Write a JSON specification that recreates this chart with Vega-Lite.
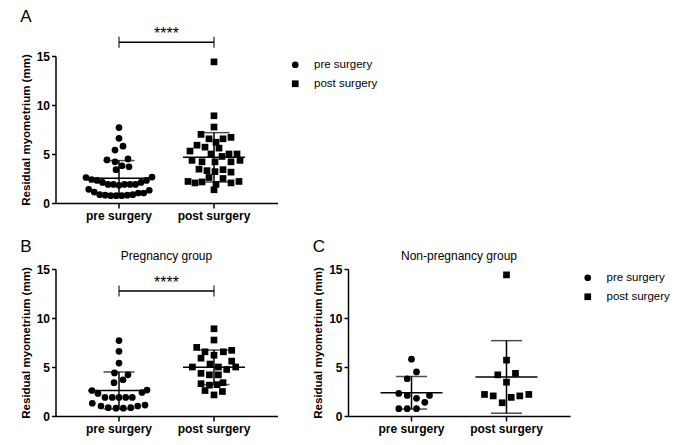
{
  "$schema": "https://vega.github.io/schema/vega-lite/v6.json",
  "autosize": {"type": "none"},
  "padding": {"left": 55.5, "top": 56, "right": 624.5, "bottom": 389},
  "background": "white",
  "config": {
    "view": {"stroke": null},
    "font": "Liberation Sans",
    "axis": {"grid": false, "domainColor": "black", "domainWidth": 1.5, "tickColor": "black", "tickWidth": 1.5, "labelColor": "black", "labelFont": "Liberation Sans", "labelFontWeight": "bold", "labelFontSize": 12, "titleFont": "Liberation Sans", "titleFontWeight": "bold", "titleFontSize": 11.5, "titleColor": "black"},
    "axisX": {"tickSize": 5, "labelPadding": 2, "labelAngle": 0, "bandPosition": 0.5},
    "axisY": {"tickSize": 4, "labelPadding": 2, "titlePadding": 5},
    "legend": {"labelFont": "Liberation Sans", "labelFontSize": 11.5, "labelColor": "black", "symbolSize": 45, "symbolFillColor": "black", "symbolStrokeColor": "black", "symbolStrokeWidth": 0, "rowPadding": 6, "labelOffset": 13, "offset": 9, "padding": 3},
    "title": {"font": "Liberation Sans", "fontWeight": "normal", "fontSize": 17, "color": "black", "anchor": "start", "frame": "bounds"}
  },
  "datasets": {
    "d": [
      {"g":"P","t":"pre surgery","v":7.7,"a":0,"s":0},
      {"g":"P","t":"pre surgery","v":6.6,"a":0,"s":0},
      {"g":"P","t":"pre surgery","v":5.4,"a":-4,"s":0},
      {"g":"P","t":"pre surgery","v":4.4,"a":-12,"s":-4.5},
      {"g":"P","t":"pre surgery","v":4.2,"a":-4,"s":9},
      {"g":"P","t":"pre surgery","v":3.7,"a":10,"s":4},
      {"g":"P","t":"pre surgery","v":3.4,"a":-3,"s":-5},
      {"g":"P","t":"pre surgery","v":2.6,"a":-33,"s":-27},
      {"g":"P","t":"pre surgery","v":2.3,"a":-22,"s":-21},
      {"g":"P","t":"pre surgery","v":2.4,"a":-27.5,"s":23},
      {"g":"P","t":"pre surgery","v":2.65,"a":33,"s":28},
      {"g":"P","t":"pre surgery","v":1.9,"a":-11,"s":-14},
      {"g":"P","t":"pre surgery","v":1.9,"a":-5.5,"s":-6.7},
      {"g":"P","t":"pre surgery","v":1.9,"a":5.5,"s":0},
      {"g":"P","t":"pre surgery","v":1.9,"a":11,"s":6.7},
      {"g":"P","t":"pre surgery","v":1.9,"a":16.5,"s":13.3},
      {"g":"P","t":"pre surgery","v":1.3,"a":30.25,"s":-26.7},
      {"g":"P","t":"pre surgery","v":1.02,"a":19.25,"s":-18},
      {"g":"P","t":"pre surgery","v":0.85,"a":-19.25,"s":-10.7},
      {"g":"P","t":"pre surgery","v":0.8,"a":-13.75,"s":-3},
      {"g":"P","t":"pre surgery","v":0.8,"a":8.25,"s":4.3},
      {"g":"P","t":"pre surgery","v":0.85,"a":13.75,"s":11.7},
      {"g":"P","t":"pre surgery","v":1.02,"a":24.75,"s":18.7},
      {"g":"P","t":"pre surgery","v":1.12,"a":-24.75,"s":26},
      {"g":"N","t":"pre surgery","v":5.8,"a":4,"s":0},
      {"g":"N","t":"pre surgery","v":4.5,"a":9,"s":5},
      {"g":"N","t":"pre surgery","v":3.8,"a":3,"s":-4.3},
      {"g":"N","t":"pre surgery","v":2.3,"a":27.5,"s":-12.7},
      {"g":"N","t":"pre surgery","v":2.1,"a":-16.5,"s":-4.3},
      {"g":"N","t":"pre surgery","v":1.8,"a":0,"s":5},
      {"g":"N","t":"pre surgery","v":2.1,"a":22,"s":18},
      {"g":"N","t":"pre surgery","v":1.4,"a":-30.25,"s":13.3},
      {"g":"N","t":"pre surgery","v":0.75,"a":-8.25,"s":-12.7},
      {"g":"N","t":"pre surgery","v":0.75,"a":-2.75,"s":-4.3},
      {"g":"N","t":"pre surgery","v":0.75,"a":2.75,"s":5},
      {"g":"P","t":"post surgery","v":8.9,"a":0,"s":0},
      {"g":"P","t":"post surgery","v":7.75,"a":0,"s":0},
      {"g":"P","t":"post surgery","v":7.0,"a":-13,"s":-17.3},
      {"g":"P","t":"post surgery","v":6.55,"a":-5,"s":-9},
      {"g":"P","t":"post surgery","v":6.2,"a":2,"s":0},
      {"g":"P","t":"post surgery","v":6.55,"a":9,"s":9.4},
      {"g":"P","t":"post surgery","v":6.7,"a":17,"s":17.7},
      {"g":"P","t":"post surgery","v":5.9,"a":-17,"s":-13},
      {"g":"P","t":"post surgery","v":5.6,"a":5,"s":17.7},
      {"g":"P","t":"post surgery","v":5.0,"a":15,"s":-21.6},
      {"g":"P","t":"post surgery","v":5.3,"a":-24,"s":-4},
      {"g":"P","t":"post surgery","v":5.0,"a":23,"s":4.4},
      {"g":"P","t":"post surgery","v":4.75,"a":8,"s":12.7},
      {"g":"P","t":"post surgery","v":5.0,"a":-3,"s":21.7},
      {"g":"P","t":"post surgery","v":4.35,"a":-22,"s":-13},
      {"g":"P","t":"post surgery","v":4.2,"a":-12,"s":-4.6},
      {"g":"P","t":"post surgery","v":4.2,"a":1,"s":4.4},
      {"g":"P","t":"post surgery","v":3.3,"a":-7,"s":-13},
      {"g":"P","t":"post surgery","v":3.15,"a":17,"s":-4.5},
      {"g":"P","t":"post surgery","v":3.4,"a":9,"s":9},
      {"g":"P","t":"post surgery","v":2.6,"a":-5,"s":-9},
      {"g":"P","t":"post surgery","v":2.5,"a":9,"s":8.4},
      {"g":"P","t":"post surgery","v":2.15,"a":-12,"s":0},
      {"g":"P","t":"post surgery","v":3.2,"a":1,"s":3},
      {"g":"N","t":"post surgery","v":14.4,"a":0,"s":0},
      {"g":"N","t":"post surgery","v":5.7,"a":-9,"s":0},
      {"g":"N","t":"post surgery","v":4.2,"a":17,"s":-8.7},
      {"g":"N","t":"post surgery","v":4.35,"a":26,"s":9},
      {"g":"N","t":"post surgery","v":3.45,"a":-15,"s":0},
      {"g":"N","t":"post surgery","v":2.2,"a":-26,"s":-22},
      {"g":"N","t":"post surgery","v":2.05,"a":-19,"s":-13.3},
      {"g":"N","t":"post surgery","v":1.35,"a":0,"s":-4.3},
      {"g":"N","t":"post surgery","v":1.9,"a":2,"s":4.7},
      {"g":"N","t":"post surgery","v":2.05,"a":17,"s":13.3},
      {"g":"N","t":"post surgery","v":2.2,"a":25,"s":22.3}
    ]
  },
  "bounds": "flush",
  "spacing": 66,
  "resolve": {"scale": {"shape": "independent"}, "legend": {"shape": "independent"}},
  "vconcat": [
    {
      "width": 222, "height": 147,
      "title": {"text": "A", "offset": 0},
      "layer": [
        {"data": {"name": "d"},
         "mark": {"type": "point", "filled": true, "size": 45, "color": "black", "opacity": 1},
         "encoding": {
           "x": {"field": "t", "type": "nominal", "scale": {"type": "band", "domain": ["pre surgery", "post surgery"], "paddingInner": 0, "paddingOuter": 0.1684}, "axis": {"title": null}},
           "xOffset": {"field": "a", "type": "quantitative", "scale": {"domain": [-47.5, 47.5], "range": [0, 95]}},
           "y": {"field": "v", "type": "quantitative", "title": "Residual myometrium (mm)", "scale": {"domain": [0, 15], "nice": false}, "axis": {"values": [0, 5, 10, 15]}},
           "shape": {"field": "t", "type": "nominal", "scale": {"domain": ["pre surgery", "post surgery"], "range": ["circle", "square"]}, "legend": {"title": null}}
         }},
        {"data": {"name": "d"},
         "mark": {"type": "errorbar", "extent": "stdev", "ticks": true, "size": 31, "thickness": 1.5, "color": "black"},
         "encoding": {"x": {"field": "t", "type": "nominal"}, "y": {"field": "v", "type": "quantitative", "title": "Residual myometrium (mm)"}}},
        {"data": {"name": "d"},
         "mark": {"type": "tick", "size": 62, "thickness": 1.5, "color": "black"},
         "encoding": {"x": {"field": "t", "type": "nominal"}, "y": {"aggregate": "mean", "field": "v", "type": "quantitative", "title": "Residual myometrium (mm)"}}},
        {"data": {"values": [{"t1": "pre surgery", "t2": "post surgery", "y": 16.4, "label": "****"}]},
         "layer": [
           {"mark": {"type": "rule", "strokeWidth": 1.5, "color": "black"},
            "encoding": {"x": {"field": "t1", "type": "nominal", "bandPosition": 0.5}, "x2": {"field": "t2", "bandPosition": 0.5}, "y": {"field": "y", "type": "quantitative", "title": "Residual myometrium (mm)"}}},
           {"mark": {"type": "text", "fontSize": 16, "dy": -3, "baseline": "alphabetic", "font": "Liberation Sans", "color": "black"},
            "encoding": {"x": {"field": "t1", "type": "nominal", "bandPosition": 1}, "y": {"field": "y", "type": "quantitative", "title": "Residual myometrium (mm)"}, "text": {"field": "label"}}}
         ]},
        {"data": {"values": [{"t": "pre surgery", "y": 16.4}, {"t": "post surgery", "y": 16.4}]},
         "mark": {"type": "tick", "orient": "vertical", "size": 11, "thickness": 1.5, "color": "black"},
         "encoding": {"x": {"field": "t", "type": "nominal"}, "y": {"field": "y", "type": "quantitative", "title": "Residual myometrium (mm)"}}}
      ]
    },
    {
      "bounds": "flush",
      "spacing": 70.5,
      "resolve": {"scale": {"shape": "independent"}, "legend": {"shape": "independent"}},
      "hconcat": [
        {
          "width": 222, "height": 147,
          "title": {"text": "B", "offset": -6},
          "layer": [
            {"data": {"name": "d"}, "transform": [{"filter": "datum.g == 'P'"}],
             "mark": {"type": "point", "filled": true, "size": 45, "color": "black", "opacity": 1},
             "encoding": {
               "x": {"field": "t", "type": "nominal", "scale": {"type": "band", "domain": ["pre surgery", "post surgery"], "paddingInner": 0, "paddingOuter": 0.1684}, "axis": {"title": null}},
               "xOffset": {"field": "s", "type": "quantitative", "scale": {"domain": [-47.5, 47.5], "range": [0, 95]}},
               "y": {"field": "v", "type": "quantitative", "title": "Residual myometrium (mm)", "scale": {"domain": [0, 15], "nice": false}, "axis": {"values": [0, 5, 10, 15]}},
               "shape": {"field": "t", "type": "nominal", "scale": {"domain": ["pre surgery", "post surgery"], "range": ["circle", "square"]}, "legend": null}
             }},
            {"data": {"name": "d"}, "transform": [{"filter": "datum.g == 'P'"}],
             "mark": {"type": "errorbar", "extent": "stdev", "ticks": true, "size": 31, "thickness": 1.5, "color": "black"},
             "encoding": {"x": {"field": "t", "type": "nominal"}, "y": {"field": "v", "type": "quantitative", "title": "Residual myometrium (mm)"}}},
            {"data": {"name": "d"}, "transform": [{"filter": "datum.g == 'P'"}],
             "mark": {"type": "tick", "size": 62, "thickness": 1.5, "color": "black"},
             "encoding": {"x": {"field": "t", "type": "nominal"}, "y": {"aggregate": "mean", "field": "v", "type": "quantitative", "title": "Residual myometrium (mm)"}}},
            {"data": {"values": [{"t1": "pre surgery", "t2": "post surgery", "y": 12.75, "label": "****", "gy": 15.9, "glabel": "Pregnancy group"}]},
             "layer": [
               {"mark": {"type": "rule", "strokeWidth": 1.5, "color": "black"},
                "encoding": {"x": {"field": "t1", "type": "nominal", "bandPosition": 0.5}, "x2": {"field": "t2", "bandPosition": 0.5}, "y": {"field": "y", "type": "quantitative", "title": "Residual myometrium (mm)"}}},
               {"mark": {"type": "text", "fontSize": 16, "dy": -3, "baseline": "alphabetic", "font": "Liberation Sans", "color": "black"},
                "encoding": {"x": {"field": "t1", "type": "nominal", "bandPosition": 1}, "y": {"field": "y", "type": "quantitative", "title": "Residual myometrium (mm)"}, "text": {"field": "label"}}},
               {"mark": {"type": "text", "fontSize": 12, "baseline": "alphabetic", "font": "Liberation Sans", "color": "black"},
                "encoding": {"x": {"field": "t1", "type": "nominal", "bandPosition": 1}, "y": {"field": "gy", "type": "quantitative", "title": "Residual myometrium (mm)"}, "text": {"field": "glabel"}}}
             ]},
            {"data": {"values": [{"t": "pre surgery", "y": 12.75}, {"t": "post surgery", "y": 12.75}]},
             "mark": {"type": "tick", "orient": "vertical", "size": 11, "thickness": 1.5, "color": "black"},
             "encoding": {"x": {"field": "t", "type": "nominal"}, "y": {"field": "y", "type": "quantitative", "title": "Residual myometrium (mm)"}}}
          ]
        },
        {
          "width": 222, "height": 147,
          "title": {"text": "C", "offset": -6},
          "layer": [
            {"data": {"name": "d"}, "transform": [{"filter": "datum.g == 'N'"}],
             "mark": {"type": "point", "filled": true, "size": 45, "color": "black", "opacity": 1},
             "encoding": {
               "x": {"field": "t", "type": "nominal", "scale": {"type": "band", "domain": ["pre surgery", "post surgery"], "paddingInner": 0, "paddingOuter": 0.1684}, "axis": {"title": null}},
               "xOffset": {"field": "s", "type": "quantitative", "scale": {"domain": [-47.5, 47.5], "range": [0, 95]}},
               "y": {"field": "v", "type": "quantitative", "title": "Residual myometrium (mm)", "scale": {"domain": [0, 15], "nice": false}, "axis": {"values": [0, 5, 10, 15]}},
               "shape": {"field": "t", "type": "nominal", "scale": {"domain": ["pre surgery", "post surgery"], "range": ["circle", "square"]}, "legend": {"title": null}}
             }},
            {"data": {"name": "d"}, "transform": [{"filter": "datum.g == 'N'"}],
             "mark": {"type": "errorbar", "extent": "stdev", "ticks": true, "size": 31, "thickness": 1.5, "color": "black"},
             "encoding": {"x": {"field": "t", "type": "nominal"}, "y": {"field": "v", "type": "quantitative", "title": "Residual myometrium (mm)"}}},
            {"data": {"name": "d"}, "transform": [{"filter": "datum.g == 'N'"}],
             "mark": {"type": "tick", "size": 62, "thickness": 1.5, "color": "black"},
             "encoding": {"x": {"field": "t", "type": "nominal"}, "y": {"aggregate": "mean", "field": "v", "type": "quantitative", "title": "Residual myometrium (mm)"}}},
            {"data": {"values": [{"t1": "pre surgery", "gy": 15.9, "glabel": "Non-pregnancy group"}]},
             "mark": {"type": "text", "fontSize": 12, "baseline": "alphabetic", "font": "Liberation Sans", "color": "black"},
             "encoding": {"x": {"field": "t1", "type": "nominal", "bandPosition": 1}, "y": {"field": "gy", "type": "quantitative", "title": "Residual myometrium (mm)"}, "text": {"field": "glabel"}}}
          ]
        }
      ]
    }
  ]
}
